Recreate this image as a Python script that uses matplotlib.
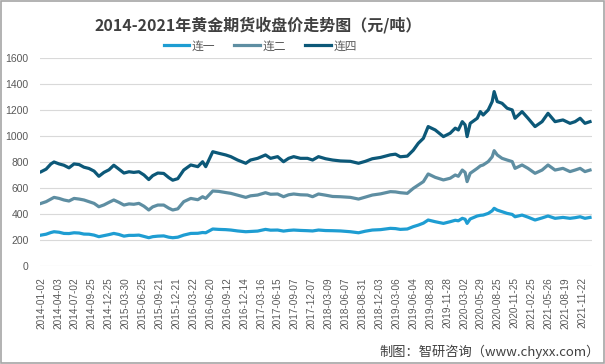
import numpy as np
import matplotlib
matplotlib.use('Agg')
import matplotlib.pyplot as plt
from matplotlib.patches import Rectangle

plt.rcParams['font.family'] = ['Noto Sans CJK SC', 'DejaVu Sans']

# trading-day index of each reading (0 = 2014-01-02)
day_idx = [0, 18, 35, 46, 64, 81, 99, 117, 135, 152, 170, 188, 205, 223, 241, 258,
           276, 294, 312, 329, 347, 365, 382, 396, 414, 435, 453, 467, 485, 506,
           531, 556, 573, 584, 609, 630, 655, 673, 697, 726, 743, 768, 796, 814,
           839, 860, 878, 896, 920, 945, 963, 984, 1009, 1034, 1062, 1097, 1126,
           1150, 1175, 1204, 1239, 1257, 1274, 1299, 1320, 1338, 1356, 1373, 1398,
           1427, 1451, 1469, 1480, 1494, 1504, 1511, 1522, 1547, 1558, 1568, 1586,
           1600, 1607, 1618, 1635, 1653, 1671, 1681, 1706, 1727, 1752, 1777, 1798,
           1823, 1851, 1876, 1894, 1912, 1929, 1947]

lian1 = [238, 245, 258, 264, 260, 251, 250, 256, 254, 246, 245, 238, 226, 234, 242, 251,
         243, 230, 236, 236, 238, 228, 218, 226, 230, 232, 222, 218, 222, 238,
         251, 252, 258, 256, 285, 282, 280, 277, 270, 264, 266, 269, 282, 276,
         277, 269, 274, 277, 274, 272, 270, 277, 273, 272, 270, 264, 256,
         268, 277, 280, 290, 288, 282, 285, 303, 315, 330, 354, 341,
         328, 341, 352, 348, 367, 360, 328, 362, 385, 390, 392, 405,
         425, 444, 430, 418, 405, 397, 379, 392, 376, 354, 370, 385,
         367, 374, 367, 372, 379, 367, 374]

lian2 = [482, 495, 515, 528, 520, 508, 500, 520, 515, 508, 495, 482, 456, 470, 490, 508,
         490, 469, 478, 475, 482, 460, 431, 455, 469, 469, 445, 431, 440, 495,
         520, 510, 533, 520, 577, 574, 565, 559, 545, 528, 540, 546, 564, 552,
         554, 533, 548, 554, 548, 546, 533, 554, 545, 535, 533, 528, 515,
         530, 546, 555, 572, 570, 564, 559, 597, 623, 649, 708, 682,
         662, 675, 700, 690, 738, 720, 649, 713, 751, 770, 777, 803,
         840, 887, 854, 828, 815, 803, 751, 777, 751, 713, 738, 777,
         738, 751, 726, 738, 751, 726, 738]

lian4 = [725, 745, 785, 800, 785, 775, 755, 785, 780, 760, 750, 730, 690, 720, 740, 775,
         745, 715, 725, 720, 725, 700, 665, 695, 715, 712, 680, 660, 672, 738,
         777, 764, 802, 764, 879, 867, 854, 841, 815, 790, 815, 828, 854, 828,
         841, 802, 828, 841, 828, 828, 815, 841, 825, 815, 808, 805, 790,
         805, 825, 835, 855, 860, 840, 845, 890, 944, 982, 1072, 1046,
         995, 1021, 1060, 1046, 1110, 1085, 995, 1097, 1136, 1187, 1161, 1200,
         1264, 1341, 1264, 1251, 1213, 1200, 1136, 1187, 1136, 1072, 1110, 1174,
         1110, 1123, 1097, 1110, 1136, 1097, 1110]

tick_labels = ['2014-01-02', '2014-04-03', '2014-07-02', '2014-09-25', '2014-12-25',
               '2015-03-30', '2015-06-25', '2015-09-21', '2015-12-21', '2016-03-22',
               '2016-06-20', '2016-09-12', '2016-12-14', '2017-03-16', '2017-06-15',
               '2017-09-07', '2017-12-07', '2018-03-09', '2018-06-07', '2018-08-31',
               '2018-12-03', '2019-03-06', '2019-06-04', '2019-08-28', '2019-11-28',
               '2020-03-02', '2020-05-29', '2020-08-25', '2020-11-25', '2021-02-25',
               '2021-05-26', '2021-08-19', '2021-11-22']
tick_step = 60
n_days = 1954

series = [('连一', lian1, '#1e9dd2'),
          ('连二', lian2, '#5e8ea2'),
          ('连四', lian4, '#0c5878')]

fig = plt.figure(figsize=(6.05, 3.64), dpi=100)
ax = fig.add_axes([0.066, 0.269, 0.9125, 0.572])

for name, vals, col in series:
    ax.plot(day_idx, vals, color=col, lw=2.3, label=name, solid_joinstyle='round')

ax.set_ylim(0, 1600)
ax.set_yticks(np.arange(0, 1601, 200))
ax.set_xlim(-4, n_days)
ax.set_xticks(np.arange(len(tick_labels)) * tick_step)
ax.set_xticklabels(tick_labels, rotation=90, fontsize=7.2, color='#595959',
                   family=['Liberation Sans', 'DejaVu Sans'])
ax.tick_params(axis='y', labelsize=7.5, colors='#595959', length=0, pad=8)
ax.tick_params(axis='x', length=0, pad=8)
for lab in ax.get_yticklabels():
    lab.set_family(['Liberation Sans', 'DejaVu Sans'])
ax.grid(axis='y', color='#d9d9d9', lw=0.8)
ax.set_axisbelow(True)
for sp in ax.spines.values():
    sp.set_visible(False)

fig.text(0.427, 0.93, '2014-2021年黄金期货收盘价走势图（元/吨）', ha='center', va='center',
         fontsize=11.5, fontweight='bold', color='#404040')

fig.legend(loc='center', bbox_to_anchor=(0.43, 0.874), ncol=3, frameon=False,
           fontsize=8.5, handlelength=2.2, handletextpad=0.2, columnspacing=1.6,
           labelcolor='#595959')

fig.text(0.992, 0.033, '制图：智研咨询（www.chyxx.com）', ha='right', va='center',
         fontsize=9.5, color='#404040')

fig.patches.append(Rectangle((0.001, 0.002), 0.997, 0.996, transform=fig.transFigure,
                             fill=False, edgecolor='#a6a6a6', lw=1.2))

fig.savefig('out.png', dpi=100)
